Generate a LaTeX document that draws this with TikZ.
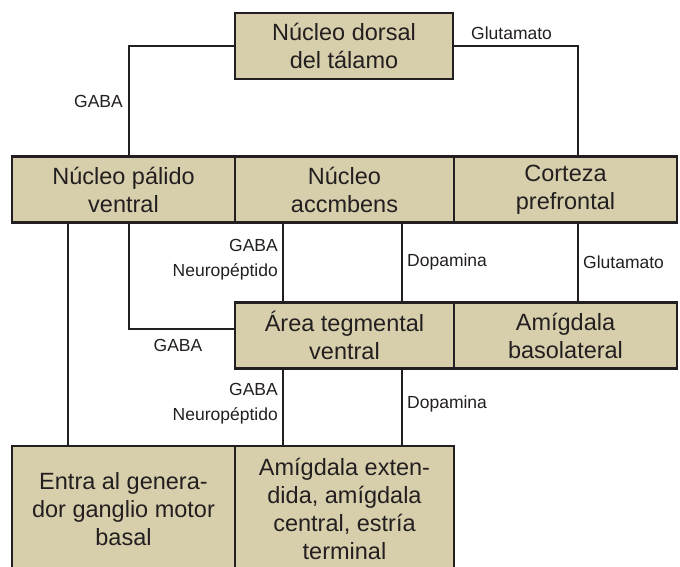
\documentclass[tikz,border=0pt]{standalone}
\usepackage{fontspec}
\setmainfont{Liberation Sans}
\definecolor{boxfill}{RGB}{215,207,171}
\definecolor{ink}{RGB}{35,31,32}
\tikzset{
  region/.style={draw=ink, fill=boxfill, line width=2.3pt, align=center, text=ink,
    font=\fontsize{23.5}{28}\selectfont, inner sep=0pt, minimum height=66pt},
  nt/.style={text=ink, font=\fontsize{17.5}{25}\selectfont, inner sep=0pt},
  link/.style={draw=ink, line width=2.3pt},
}

\begin{document}
\begin{tikzpicture}[x=1pt,y=-1pt]
		\useasboundingbox (0,0) rectangle (680,567);
		% boxes
		\node[region, minimum width=218pt] (dorsal) at (344,46) {Núcleo dorsal\\del tálamo};
		\node[region, minimum width=223pt] (pallidum) at (123.5,189.5) {Núcleo pálido\\ventral};
		\node[region, minimum width=219pt] (accumbens) at (344.5,189.5) {Núcleo\\accmbens};
		\node[region, minimum width=223pt] (cortex) at (565.5,189.5) {Corteza\\prefrontal};
		\node[region, minimum width=219pt] (vta) at (344.5,335.5) {Área tegmental\\ventral};
		\node[region, minimum width=223pt] (basolat) at (565.5,335.5) {Amígdala\\basolateral};
		\node[region, minimum width=223pt, minimum height=126pt] (motor) at (123.5,509) {Entra al genera-\\dor ganglio motor\\basal};
		\node[region, minimum width=219pt, minimum height=126pt] (extended) at (344.5,509) {Amígdala exten-\\dida, amígdala\\central, estría\\terminal};
		% connectors
		\draw[link] (dorsal.west) -| ([xshift=5.5pt]pallidum.north);
		\draw[link] (dorsal.east) -| ([xshift=12.5pt]cortex.north);
		\draw[link] ([xshift=5.5pt]pallidum.south) |- ([yshift=6.5pt]vta.west);
		\draw[link] ([xshift=-55.5pt]pallidum.south) -- ([xshift=-55.5pt]motor.north);
		\draw[link] ([xshift=12.5pt]cortex.south) -- ([xshift=12.5pt]basolat.north);
		\foreach \dx in {-61.5,57.5}{
			\draw[link] ([xshift=\dx pt]accumbens.south) -- ([xshift=\dx pt]vta.north);
			\draw[link] ([xshift=\dx pt]vta.south) -- ([xshift=\dx pt]extended.north);
		}
		% labels
		\node[nt, anchor=east] (gabatop) at (123,101) {GABA};
		\node[nt, anchor=west] (glutop) at (471,33) {Glutamato};
		\node[nt, anchor=east, align=right] (gabanp1) at (278,260) {GABA\\Neuropéptido};
		\node[nt, anchor=west] (dopa1) at (407,262) {Dopamina};
		\node[nt, anchor=west] (glumid) at (583,262) {Glutamato};
		\node[nt] (gabavta) at (178,345) {GABA};
		\node[nt, anchor=east, align=right] (gabanp2) at (278,404) {GABA\\Neuropéptido};
		\node[nt, anchor=west] (dopa2) at (407,404) {Dopamina};
	\end{tikzpicture}
\end{document}
